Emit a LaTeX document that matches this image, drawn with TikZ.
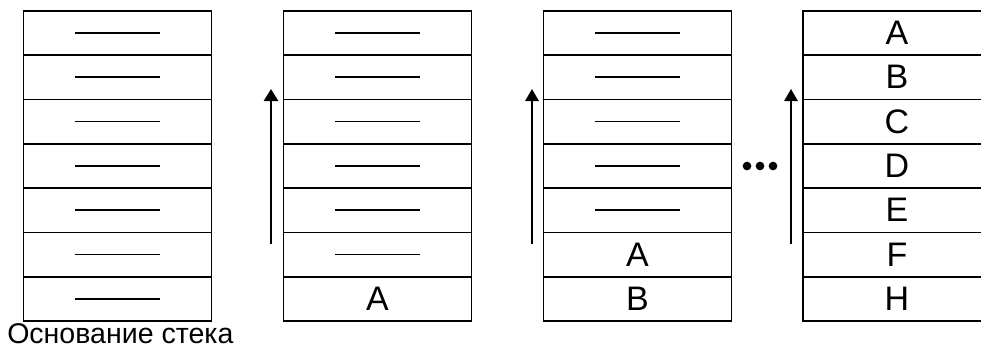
\documentclass[tikz,border=0pt]{standalone}
\usepackage{fontspec}
\setmainfont{Liberation Sans}
\usetikzlibrary{arrows.meta}
\tikzset{
  cell/.style={draw, line width=1.3pt, minimum width=141pt, minimum height=33.25pt,
    inner sep=0pt, font=\fontsize{25.5}{25.5}\selectfont},
  dashline/.style={line width=1.4pt},
  pusharrow/.style={-{Triangle[width=10.5pt,length=9pt]}, line width=2pt},
  thinarrow/.style={-{Triangle[width=10pt,length=9pt]}, line width=1.5pt},
  dotmark/.style={circle, fill, inner sep=0pt, minimum size=6.5pt},
  caption/.style={anchor=base west, inner sep=0pt, font=\fontsize{21.4}{21.4}\selectfont},
}
\begin{document}
\begin{tikzpicture}[x=0.75pt,y=-0.75pt]
\useasboundingbox (0,0) rectangle (981,358);
\clip (0,0) rectangle (981,358);
% stack 1
\foreach \i in {0,...,6}
  \node[cell] (a\i) at (117.5,32.9+44.33*\i) {};
% stack 2
\foreach \i/\t in {0/,1/,2/,3/,4/,5/,6/A}
  \node[cell] (b\i) at (377.5,32.9+44.33*\i) {\t};
% stack 3
\foreach \i/\t in {0/,1/,2/,3/,4/,5/A,6/B}
  \node[cell] (c\i) at (637.5,32.9+44.33*\i) {\t};
% stack 4
\foreach \i/\t in {0/A,1/B,2/C,3/D,4/E,5/F,6/H}
  \node[cell] (d\i) at (897,32.9+44.33*\i) {\t};
% dashes
\foreach \i in {0,...,6}
  \draw[dashline] ([xshift=-32pt]a\i.center) -- ([xshift=32pt]a\i.center);
\foreach \i in {0,...,5}
  \draw[dashline] ([xshift=-32pt]b\i.center) -- ([xshift=32pt]b\i.center);
\foreach \i in {0,...,4}
  \draw[dashline] ([xshift=-32pt]c\i.center) -- ([xshift=32pt]c\i.center);
% arrows
\coordinate (p2s) at (271,244);
\coordinate (p2e) at (271,89);
\coordinate (p3s) at (532,244);
\coordinate (p3e) at (532,89);
\coordinate (p4s) at (791,244);
\coordinate (p4e) at (791,89);
\draw[pusharrow] (p2s) -- (p2e);
\draw[thinarrow] (p3s) -- (p3e);
\draw[thinarrow] (p4s) -- (p4e);
% dots
\node[dotmark] (dot1) at (747,166) {};
\node[dotmark] (dot2) at (760,166) {};
\node[dotmark] (dot3) at (773,166) {};
% caption
\node[caption] (base) at (7,343) {Основание стека};
\end{tikzpicture}
\end{document}
